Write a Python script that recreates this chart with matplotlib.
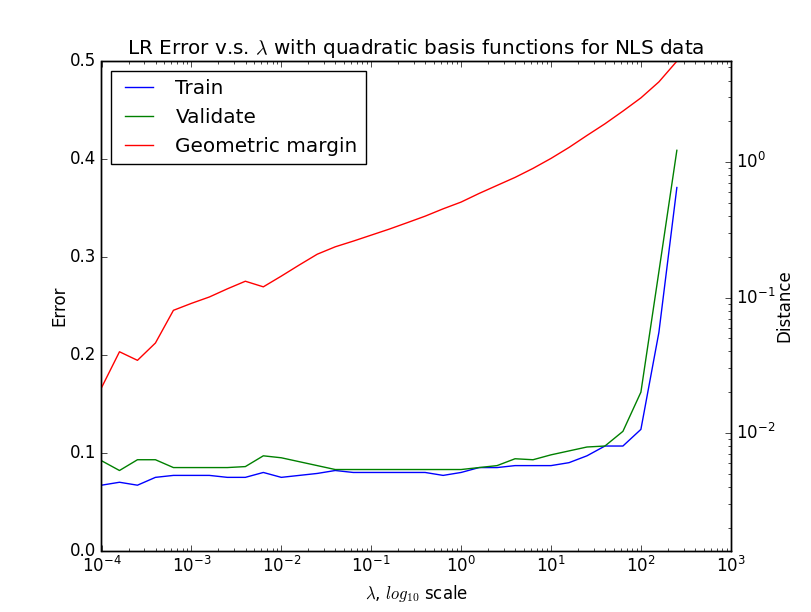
import matplotlib
matplotlib.use("Agg")
import matplotlib.pyplot as plt
import numpy as np

plt.style.use('classic')

# regularisation strengths (log10 exponents)
lam_exp = [-4.0, -3.8, -3.6, -3.4, -3.2, -3.0, -2.8, -2.6, -2.4, -2.2, -2.0,
           -1.8, -1.6, -1.4, -1.2, -1.0, -0.8, -0.6, -0.4, -0.2, 0.0,
           0.2, 0.4, 0.6, 0.8, 1.0, 1.2, 1.4, 1.6, 1.8, 2.0, 2.2, 2.4]

train_err = [0.067, 0.070, 0.067, 0.075, 0.077, 0.077, 0.077, 0.075, 0.075, 0.080, 0.075,
             0.077, 0.079, 0.082, 0.080, 0.080, 0.080, 0.080, 0.080, 0.077, 0.080,
             0.085, 0.085, 0.087, 0.087, 0.087, 0.090, 0.097, 0.107, 0.107, 0.124, 0.223, 0.371]

valid_err = [0.092, 0.082, 0.093, 0.093, 0.085, 0.085, 0.085, 0.085, 0.086, 0.097, 0.095,
             0.091, 0.087, 0.083, 0.083, 0.083, 0.083, 0.083, 0.083, 0.083, 0.083,
             0.085, 0.087, 0.094, 0.093, 0.098, 0.102, 0.106, 0.107, 0.122, 0.162, 0.285, 0.409]

margin = [0.0216, 0.0398, 0.0344, 0.0462, 0.0805, 0.0906, 0.101, 0.116, 0.132, 0.120, 0.144,
          0.174, 0.209, 0.237, 0.261, 0.289, 0.320, 0.357, 0.399, 0.452, 0.507,
          0.587, 0.673, 0.771, 0.899, 1.065, 1.283, 1.573, 1.918, 2.38, 2.98, 3.91, 5.56]

lam = 10 ** np.array(lam_exp)

fig, ax1 = plt.subplots(figsize=(8.12, 6.12))
l1, = ax1.plot(lam, train_err, 'b-', label='Train')
l2, = ax1.plot(lam, valid_err, 'g-', label='Validate')
ax1.set_xscale('log')
ax1.set_xlim(1e-4, 1e3)
ax1.set_ylim(0, 0.5)
ax1.set_ylabel('Error', labelpad=1)
ax1.set_xlabel(r'$\lambda$, $log_{10}$ scale')
ax1.set_title(r'LR Error v.s. $\lambda$ with quadratic basis functions for NLS data')

ax2 = ax1.twinx()
l3, = ax2.plot(lam, margin, 'r-', label='Geometric margin')
ax2.set_yscale('log')
ax2.set_ylim(1.35e-3, 5.56)
ax2.set_xlim(1e-4, 1e3)
ax2.set_ylabel('Distance', labelpad=0)

ax2.legend(handles=[l1, l2, l3], loc='upper left')

fig.savefig('out.png', dpi=100)
